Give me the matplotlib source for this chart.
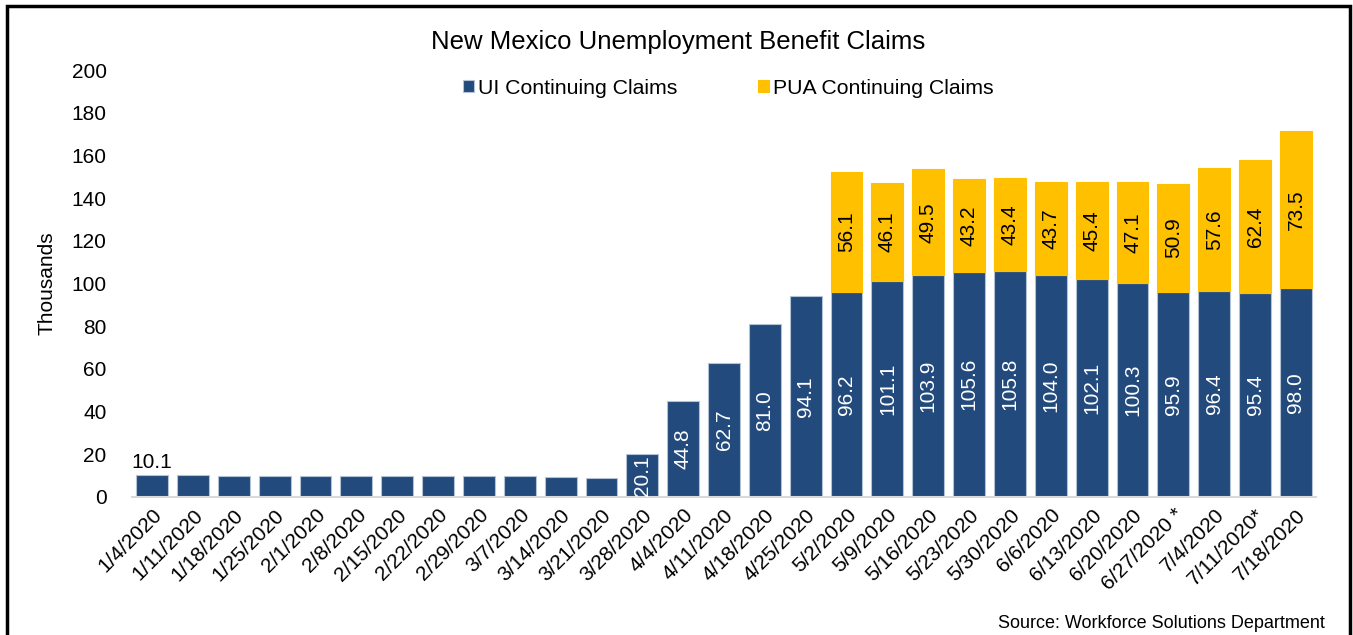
import matplotlib
matplotlib.use("Agg")
import matplotlib.pyplot as plt
from matplotlib.patches import Rectangle
import numpy as np

plt.rcParams['font.family'] = ['Liberation Sans', 'DejaVu Sans']

dates = ["1/4/2020", "1/11/2020", "1/18/2020", "1/25/2020", "2/1/2020", "2/8/2020",
         "2/15/2020", "2/22/2020", "2/29/2020", "3/7/2020", "3/14/2020", "3/21/2020",
         "3/28/2020", "4/4/2020", "4/11/2020", "4/18/2020", "4/25/2020", "5/2/2020",
         "5/9/2020", "5/16/2020", "5/23/2020", "5/30/2020", "6/6/2020", "6/13/2020",
         "6/20/2020", "6/27/2020 *", "7/4/2020", "7/11/2020*", "7/18/2020"]
ui_claims = [10.1, 10.3, 9.7, 10.0, 9.7, 9.7, 9.7, 9.7, 9.7, 9.7, 9.3, 9.0,
             20.1, 44.8, 62.7, 81.0, 94.1, 96.2, 101.1, 103.9, 105.6, 105.8,
             104.0, 102.1, 100.3, 95.9, 96.4, 95.4, 98.0]
pua_claims = [0, 0, 0, 0, 0, 0, 0, 0, 0, 0, 0, 0,
              0, 0, 0, 0, 0, 56.1, 46.1, 49.5, 43.2, 43.4,
              43.7, 45.4, 47.1, 50.9, 57.6, 62.4, 73.5]
yticks = [0, 20, 40, 60, 80, 100, 120, 140, 160, 180, 200]

NAVY = "#234A7C"
GOLD = "#FFC000"
EDGE = "#B4C2D6"

W, H = 1353, 635
fig = plt.figure(figsize=(W / 100, H / 100), dpi=100)
ax = fig.add_axes([131.6 / W, (H - 497) / H, (1316.4 - 131.6) / W, (497 - 70) / H])

x = np.arange(len(dates))
ui = np.array(ui_claims)
pua = np.array(pua_claims)
b1 = ax.bar(x, ui, width=0.78, color=NAVY, edgecolor=EDGE, linewidth=0.8,
            label="UI Continuing Claims", zorder=2)
mask = pua > 0
b2 = ax.bar(x[mask], pua[mask], bottom=ui[mask], width=0.78, color=GOLD,
            edgecolor=GOLD, linewidth=0.8, label="PUA Continuing Claims", zorder=2)

ax.set_xlim(-0.5, len(dates) - 0.5)
ax.set_ylim(0, 200)
ax.set_yticks(yticks)
ax.set_yticklabels([str(v) for v in yticks], fontsize=15)
ax.tick_params(axis='y', length=0, pad=18)
ax.set_xticks(x)
ax.set_xticklabels(dates, rotation=45, ha='right', rotation_mode='anchor', fontsize=15)
ax.tick_params(axis='x', length=0, pad=6)
for s in ['top', 'right', 'left']:
    ax.spines[s].set_visible(False)
ax.spines['bottom'].set_color("#D9D9D9")
ax.spines['bottom'].set_linewidth(1.5)
ax.spines['bottom'].set_zorder(3)

ax.set_ylabel("Thousands", fontsize=15, labelpad=11)

# data labels
for i in range(len(dates)):
    if i < 12:
        if i == 0:
            ax.text(x[i], ui[i] + 1.5, f"{ui[i]:.1f}", ha='center', va='bottom',
                    fontsize=15, color='black')
        continue
    ax.text(x[i], ui[i] / 2, f"{ui[i]:.1f}", ha='center', va='center',
            rotation=90, fontsize=15, color='white', zorder=4)
    if pua[i] > 0:
        ax.text(x[i], ui[i] + pua[i] / 2, f"{pua[i]:.1f}", ha='center', va='center',
                rotation=90, fontsize=15, color='black', zorder=4)

fig.text(678.5 / W, (H - 42) / H, "New Mexico Unemployment Benefit Claims",
         ha='center', va='center', fontsize=18.5)

leg = fig.legend(handles=[b1, b2], loc='center', bbox_to_anchor=(728 / W, (H - 88) / H),
                 ncol=2, frameon=False, fontsize=15.3, handlelength=0.55, handleheight=0.55,
                 handletextpad=0.15, columnspacing=3.8, borderpad=0)

fig.text(1325 / W, (H - 623) / H, "Source: Workforce Solutions Department",
         ha='right', va='center', fontsize=13)

fig.patches.append(Rectangle((7 / W, -0.05), (1350 - 7) / W, 1.05 - 6 / H,
                             transform=fig.transFigure, fill=False,
                             edgecolor='black', linewidth=2.5))

fig.savefig("out.png", dpi=100)
